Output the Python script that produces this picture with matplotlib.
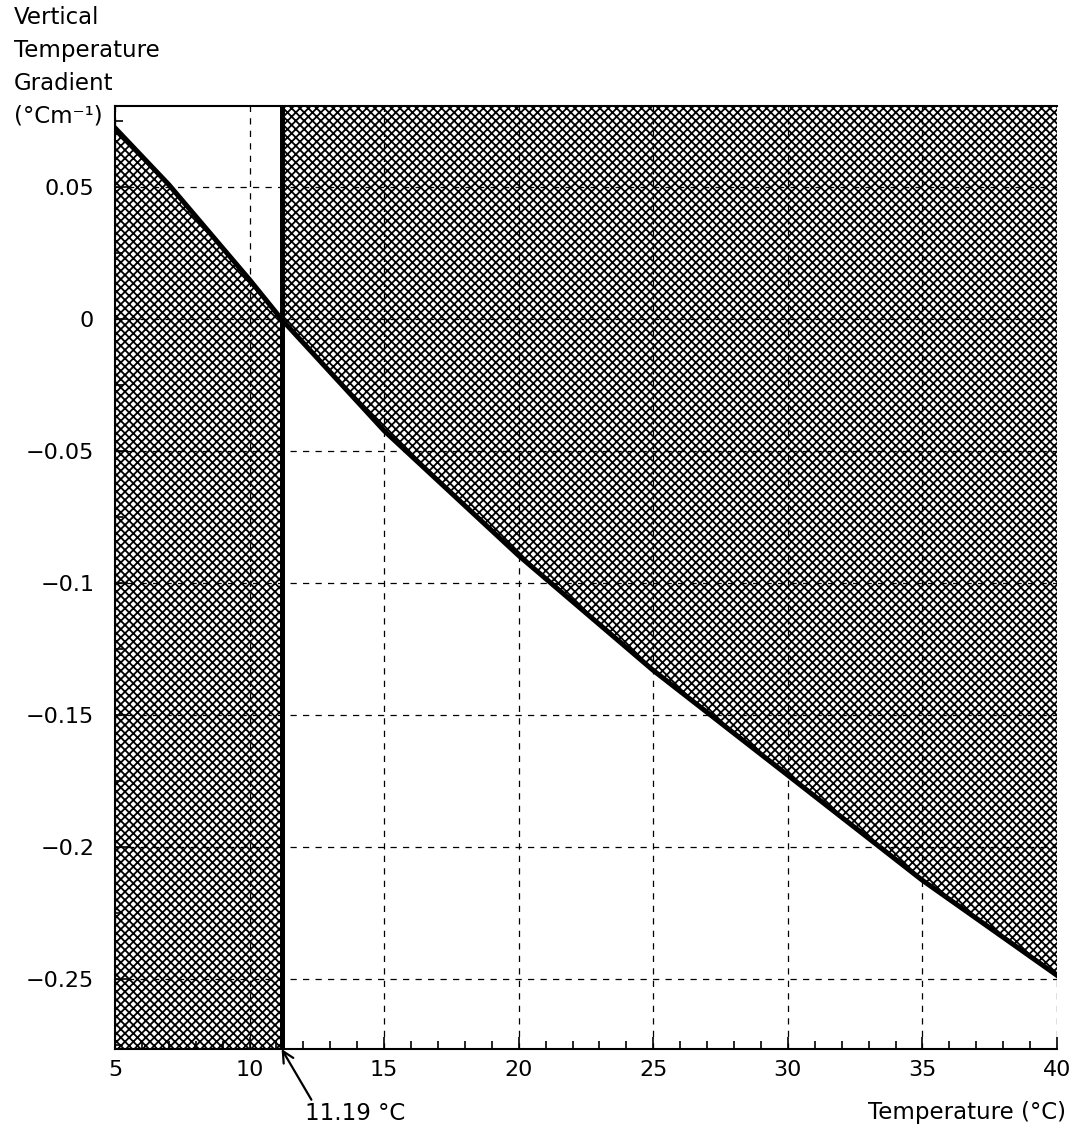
import matplotlib
matplotlib.use('Agg')
import matplotlib.pyplot as plt
import matplotlib.ticker as ticker
import numpy as np

#---DATA---
temp = [5, 7, 10, 11.19, 15, 20, 25, 30, 35, 40]
gradient = [0.0725, 0.051, 0.0150, 0.0, -0.0422, -0.0895, -0.133, -0.1727, -0.2125, -0.2485]
t_crit = 11.19
x_ticks = [5, 10, 15, 20, 25, 30, 35, 40]
y_ticks = [0.05, 0, -0.05, -0.1, -0.15, -0.2, -0.25]
y_labels = ['0.05', '0', '\u22120.05', '\u22120.1', '\u22120.15', '\u22120.2', '\u22120.25']

plt.rcParams['font.family'] = ['DejaVu Sans']
plt.rcParams['hatch.linewidth'] = 1.3

#---FIGURE---
fig = plt.figure(figsize=(10.79, 11.34), dpi=100)
ax = fig.add_axes([115/1079, 1 - 1049/1134, (1057-115)/1079, (1049-106)/1134])
ylo, yhi = -0.2764, 0.0808
ax.set_xlim(5, 40)
ax.set_ylim(ylo, yhi)

t = np.array(temp)
g = np.array(gradient)
left = t <= t_crit
right = t >= t_crit

#hatched regions
ax.fill_between(t[left], ylo, g[left], facecolor='white', edgecolor='black',
	hatch='xxxx', linewidth=0, zorder=2)
ax.fill_between(t[right], g[right], yhi, facecolor='white', edgecolor='black',
	hatch='xxxx', linewidth=0, zorder=2)

#curve and critical temperature
ax.plot(t, g, color='black', linewidth=3.6, zorder=4, solid_joinstyle='round')
ax.axvline(t_crit, color='black', linewidth=3.6, zorder=4)

#grid
ax.grid(True, which='major', color='black', linestyle=(0, (5, 5)), linewidth=0.9, zorder=3)
ax.set_axisbelow(False)

#---AXES FORMATTING---
ax.set_xticks(x_ticks)
ax.xaxis.set_minor_locator(ticker.MultipleLocator(1))
ax.set_yticks(y_ticks)
ax.set_yticklabels(y_labels)
ax.yaxis.set_minor_locator(ticker.MultipleLocator(0.025))
ax.tick_params(which='both', direction='in', labelsize=16, width=1.2)
ax.tick_params(which='major', length=9)
ax.tick_params(which='minor', length=6)
ax.tick_params(axis='x', pad=8)
ax.tick_params(axis='y', pad=15)

ax.spines['right'].set_visible(False)
for pos in ['left', 'bottom', 'top']:
	ax.spines[pos].set_linewidth(1.5)

#---TEXT---
fig.text(14/1079, 1 - 6/1134, 'Vertical\nTemperature\nGradient\n(\u00b0Cm\u207b\u00b9)',
	ha='left', va='top', fontsize=16.5, linespacing=1.55)
fig.text(1066/1079, 1 - 1112/1134, 'Temperature (\u00b0C)', ha='right', va='center', fontsize=16.5)

ax.annotate('11.19 \u00b0C', xy=(t_crit, ylo), xycoords='data',
	xytext=(305/1079, 1 - 1114/1134), textcoords='figure fraction',
	ha='left', va='center', fontsize=16.5,
	arrowprops=dict(arrowstyle='->', color='black', lw=1.6,
		shrinkA=0, shrinkB=0, relpos=(0.08, 1.0), mutation_scale=20),
	annotation_clip=False)

plt.savefig('out.png', dpi=100)
